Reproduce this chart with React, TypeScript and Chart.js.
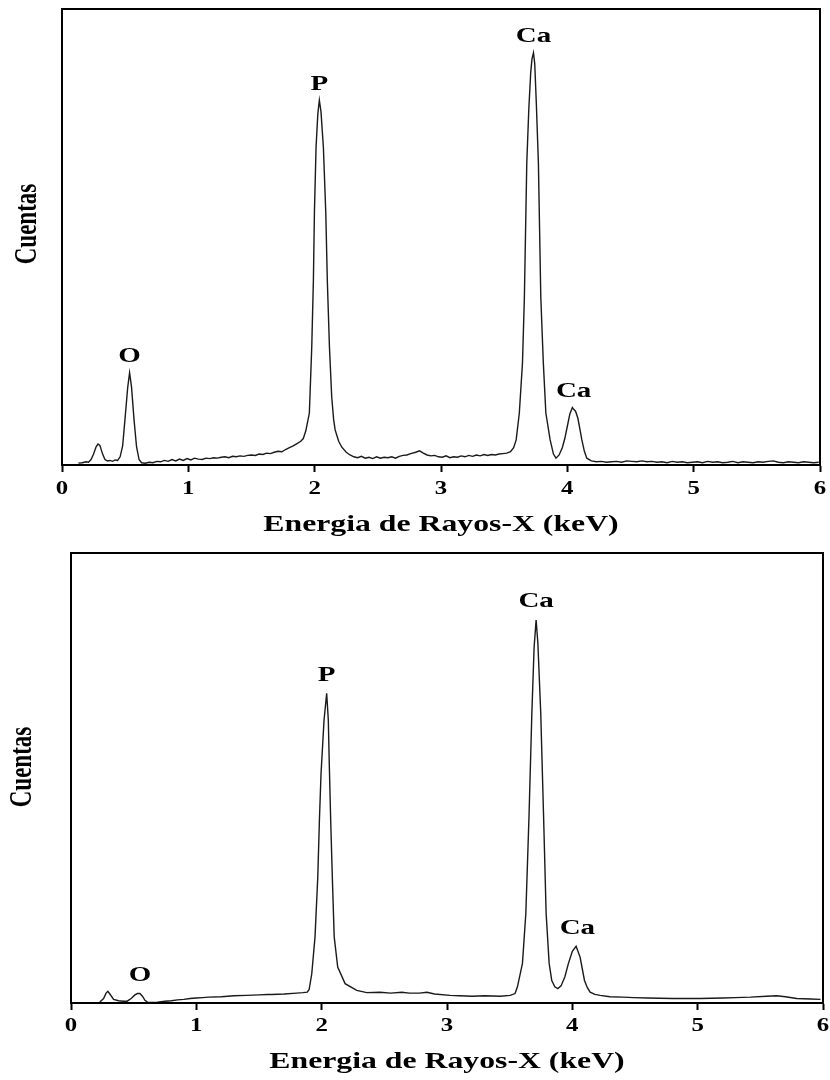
import React, { useEffect, useRef } from 'react';
import { Chart, registerables } from 'chart.js';

Chart.register(...registerables);

// ---------- data ----------
const X_MIN = 0;
const X_MAX = 6;
const X_STEP = 1;
const X_TITLE = 'Energia de Rayos-X (keV)';
const Y_TITLE = 'Cuentas';

// Upper spectrum (keV, arbitrary counts)
const topEnergy = [
  0.13, 0.16, 0.19, 0.21, 0.23, 0.25, 0.27, 0.285, 0.30, 0.32, 0.34, 0.36, 0.38, 0.40, 0.42, 0.44,
  0.46, 0.48, 0.50, 0.52, 0.535, 0.55, 0.57, 0.59, 0.61, 0.63, 0.66, 0.69, 0.72, 0.75, 0.78, 0.81,
  0.84, 0.87, 0.90, 0.93, 0.96, 0.99, 1.02, 1.05, 1.08, 1.11, 1.14, 1.17, 1.20, 1.23, 1.26, 1.29,
  1.32, 1.35, 1.38, 1.41, 1.44, 1.47, 1.50, 1.53, 1.56, 1.59, 1.62, 1.65, 1.68, 1.71, 1.74, 1.77,
  1.80, 1.83, 1.86, 1.89, 1.91, 1.93, 1.958, 1.977, 1.99, 1.998, 2.011, 2.025, 2.037, 2.05, 2.069,
  2.088, 2.10, 2.117, 2.135, 2.15, 2.162, 2.19, 2.215, 2.25, 2.28, 2.31, 2.34, 2.37, 2.40, 2.43,
  2.46, 2.49, 2.52, 2.55, 2.58, 2.61, 2.64, 2.67, 2.70, 2.73, 2.76, 2.80, 2.83, 2.86, 2.89, 2.92,
  2.95, 2.98, 3.01, 3.04, 3.07, 3.10, 3.13, 3.16, 3.19, 3.22, 3.25, 3.28, 3.31, 3.34, 3.37, 3.40,
  3.43, 3.46, 3.49, 3.52, 3.55, 3.575, 3.595, 3.62, 3.645, 3.66, 3.679, 3.695, 3.71, 3.72, 3.732,
  3.742, 3.755, 3.771, 3.79, 3.81, 3.83, 3.864, 3.89, 3.91, 3.935, 3.96, 3.98, 4.00, 4.02, 4.04,
  4.05, 4.065, 4.083, 4.10, 4.115, 4.135, 4.154, 4.19, 4.23, 4.27, 4.31, 4.35, 4.39, 4.43, 4.47,
  4.51, 4.55, 4.59, 4.63, 4.67, 4.71, 4.75, 4.79, 4.83, 4.87, 4.91, 4.95, 4.99, 5.03, 5.07, 5.11,
  5.15, 5.19, 5.23, 5.27, 5.31, 5.35, 5.39, 5.43, 5.47, 5.51, 5.55, 5.59, 5.63, 5.67, 5.71, 5.75,
  5.79, 5.83, 5.87, 5.91, 5.95, 5.99,
];
const topCounts = [
  4, 5, 7, 6, 12, 24, 40, 46, 43, 25, 12, 9, 10, 8, 11, 10,
  18, 42, 105, 170, 202, 172, 100, 40, 12, 5, 4, 6, 5, 8, 7, 10,
  8, 12, 9, 13, 10, 14, 11, 15, 13, 12, 15, 14, 16, 15, 17, 18,
  16, 19, 18, 20, 19, 21, 22, 21, 24, 23, 26, 25, 28, 30, 29, 34,
  38, 42, 47, 52, 58, 75, 114, 259, 406, 553, 697, 770, 800, 775, 697,
  553, 406, 259, 149, 100, 77, 52, 39, 28, 22, 18, 16, 19, 15, 17,
  14, 18, 15, 17, 16, 18, 15, 19, 21, 22, 25, 28, 31, 26, 22, 20,
  21, 18, 17, 20, 16, 18, 17, 20, 18, 21, 19, 22, 20, 23, 21, 23,
  22, 24, 25, 26, 29, 38, 55, 114, 224, 368, 662, 780, 860, 890, 904,
  880, 790, 662, 368, 224, 114, 55, 24, 15, 22, 38, 58, 85, 112, 126,
  122, 118, 103, 78, 55, 30, 15, 9, 7, 8, 6, 7, 8, 6, 9,
  8, 7, 9, 7, 8, 6, 7, 5, 8, 6, 7, 5, 6, 7, 5, 8,
  6, 7, 5, 6, 8, 5, 7, 6, 5, 7, 6, 8, 9, 6, 5, 7,
  6, 5, 7, 6, 5, 6,
];

// Lower spectrum
const bottomEnergy = [
  0.23, 0.26, 0.28, 0.294, 0.31, 0.34, 0.38, 0.42, 0.448, 0.48, 0.51, 0.53, 0.55, 0.57, 0.59, 0.61,
  0.65, 0.69, 0.75, 0.80, 0.85, 0.90, 0.95, 1.00, 1.05, 1.10, 1.20, 1.30, 1.40, 1.50, 1.566, 1.60,
  1.70, 1.80, 1.85, 1.885, 1.90, 1.921, 1.947, 1.969, 1.982, 1.995, 2.019, 2.04, 2.053, 2.06, 2.072,
  2.085, 2.10, 2.128, 2.187, 2.28, 2.36, 2.466, 2.55, 2.64, 2.70, 2.78, 2.84, 2.90, 3.025, 3.10,
  3.20, 3.30, 3.424, 3.504, 3.543, 3.562, 3.602, 3.629, 3.655, 3.677, 3.695, 3.711, 3.725, 3.748,
  3.77, 3.791, 3.815, 3.836, 3.86, 3.884, 3.91, 3.94, 3.969, 4.00, 4.03, 4.062, 4.08, 4.097, 4.12,
  4.142, 4.18, 4.222, 4.30, 4.40, 4.49, 4.60, 4.80, 5.02, 5.20, 5.30, 5.42, 5.55, 5.63, 5.70, 5.79,
  5.90, 5.98,
];
const bottomCounts = [
  2, 10, 22, 26, 20, 8, 5, 4, 4, 10, 18, 21, 21, 15, 6, 2,
  1, 2, 4, 5, 7, 8, 10, 11, 12, 13, 14, 16, 17, 18, 19, 19,
  20, 22, 23, 24, 30, 65, 147, 280, 406, 510, 629, 688, 629, 540, 406,
  280, 147, 80, 43, 28, 23, 24, 22, 24, 22, 22, 24, 20, 17, 16,
  15, 16, 15, 17, 21, 36, 88, 199, 421, 644, 790, 851, 800, 644,
  421, 199, 88, 50, 36, 32, 38, 58, 88, 115, 126, 102, 75, 50, 34,
  24, 19, 17, 14, 13, 12, 11, 10, 10, 11, 12, 13, 15, 16, 14, 10,
  9, 8,
];

// Peak annotations
const topPeakLabels = ['O', 'P', 'Ca', 'Ca'];
const topPeakEnergy = [0.535, 2.037, 3.732, 4.05];
const topPeakCounts = [202, 800, 904, 126];
const bottomPeakLabels = ['O', 'P', 'Ca', 'Ca'];
const bottomPeakEnergy = [0.55, 2.04, 3.711, 4.04];
const bottomPeakCounts = [21, 688, 851, 126];

// ---------- drawing helpers ----------
const FONT = '"Liberation Serif", "Times New Roman", serif';
const STRETCH = 1.38;

function stretchedText(ctx: CanvasRenderingContext2D, text: string, x: number, y: number, size: number, rotate = false) {
  ctx.save();
  ctx.translate(x, y);
  if (rotate) {
    ctx.rotate(-Math.PI / 2);
    ctx.scale(1, STRETCH);
  } else {
    ctx.scale(STRETCH, 1);
  }
  ctx.font = `bold ${size}px ${FONT}`;
  ctx.textAlign = 'center';
  ctx.textBaseline = 'middle';
  ctx.fillText(text, 0, 0);
  ctx.restore();
}

const spectrumText = {
  id: 'spectrumText',
  afterDraw(chart: any, _args: any, opts: any) {
    const { ctx, chartArea: a, scales } = chart;
    const xs = scales.x;
    const ys = scales.y;
    ctx.save();
    ctx.strokeStyle = '#000';
    ctx.lineWidth = 2;
    ctx.strokeRect(a.left, a.top, a.right - a.left, a.bottom - a.top);
    ctx.fillStyle = '#000';
    xs.ticks.forEach((t: any) => {
      stretchedText(ctx, String(t.value), xs.getPixelForValue(t.value), a.bottom + opts.tickOffset, 18);
    });
    stretchedText(ctx, X_TITLE, (a.left + a.right) / 2, a.bottom + opts.titleOffset, 23);
    stretchedText(ctx, Y_TITLE, opts.yTitleX, (a.top + a.bottom) / 2 + opts.yTitleShift, 23, true);
    (opts.labels as string[]).forEach((lab, i) => {
      const px = xs.getPixelForValue(opts.energies[i]);
      const py = ys.getPixelForValue(opts.counts[i]) - opts.labelGap;
      stretchedText(ctx, lab, px, py, 21);
    });
    ctx.restore();
  },
};

function makeConfig(
  energy: number[],
  counts: number[],
  padding: { left: number; right: number; top: number; bottom: number },
  axisHeight: number,
  textOpts: any,
): any {
  return {
    type: 'line',
    data: {
      datasets: [
        {
          data: energy.map((e, i) => ({ x: e, y: counts[i] })),
          borderColor: '#1a1a1a',
          borderWidth: 1.4,
          pointRadius: 0,
          tension: 0,
          fill: false,
        },
      ],
    },
    options: {
      responsive: false,
      animation: false,
      events: [],
      layout: { padding },
      plugins: {
        legend: { display: false },
        tooltip: { enabled: false },
        spectrumText: textOpts,
      },
      scales: {
        x: {
          type: 'linear',
          min: X_MIN,
          max: X_MAX,
          ticks: { display: false, stepSize: X_STEP },
          grid: {
            display: true,
            drawOnChartArea: false,
            drawTicks: true,
            tickLength: 7,
            tickWidth: 2,
            tickColor: '#000',
            color: '#000',
          },
          border: { display: true, color: '#000', width: 2 },
          afterFit: (scale: any) => {
            scale.height = axisHeight;
          },
        },
        y: {
          display: false,
          min: 0,
          max: 1000,
        },
      },
    },
    plugins: [spectrumText],
  };
}

export default function App() {
  const topRef = useRef<HTMLCanvasElement>(null);
  const bottomRef = useRef<HTMLCanvasElement>(null);

  useEffect(() => {
    const charts: Chart[] = [];
    if (topRef.current) {
      charts.push(
        new Chart(
          topRef.current,
          makeConfig(topEnergy, topCounts, { left: 62, right: 10, top: 9, bottom: 0 }, 80, {
            labels: topPeakLabels,
            energies: topPeakEnergy,
            counts: topPeakCounts,
            labelGap: 16,
            tickOffset: 24,
            titleOffset: 60,
            yTitleX: 28,
            yTitleShift: -13,
          }),
        ),
      );
    }
    if (bottomRef.current) {
      charts.push(
        new Chart(
          bottomRef.current,
          makeConfig(bottomEnergy, bottomCounts, { left: 71, right: 7, top: 8, bottom: 0 }, 77, {
            labels: bottomPeakLabels,
            energies: bottomPeakEnergy,
            counts: bottomPeakCounts,
            labelGap: 18,
            tickOffset: 23,
            titleOffset: 59,
            yTitleX: 23,
            yTitleShift: -11,
          }),
        ),
      );
    }
    return () => charts.forEach((c) => c.destroy());
  }, []);

  return (
    <div style={{ position: 'absolute', left: 0, top: 0, width: 830, height: 1080, background: '#fff' }}>
      <canvas ref={topRef} width={830} height={545} style={{ position: 'absolute', left: 0, top: 0 }} />
      <canvas ref={bottomRef} width={830} height={535} style={{ position: 'absolute', left: 0, top: 545 }} />
    </div>
  );
}
